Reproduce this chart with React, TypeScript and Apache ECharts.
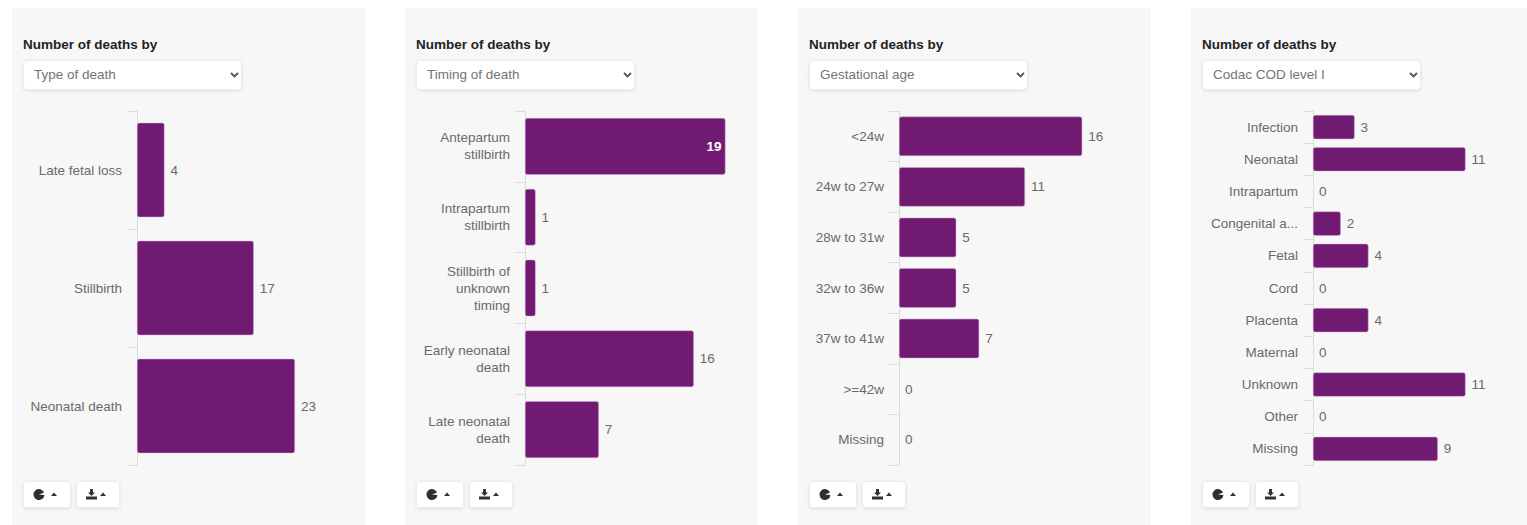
import React, { useEffect, useRef } from "react";
import * as echarts from "echarts";

const typeCategories = ["Late fetal loss", "Stillbirth", "Neonatal death"];
const typeValues = [4, 17, 23];

const timingCategories = [
  "Antepartum\nstillbirth",
  "Intrapartum\nstillbirth",
  "Stillbirth of\nunknown\ntiming",
  "Early neonatal\ndeath",
  "Late neonatal\ndeath",
];
const timingValues = [19, 1, 1, 16, 7];

const gestationCategories = ["<24w", "24w to 27w", "28w to 31w", "32w to 36w", "37w to 41w", ">=42w", "Missing"];
const gestationValues = [16, 11, 5, 5, 7, 0, 0];

const codacCategories = [
  "Infection", "Neonatal", "Intrapartum", "Congenital a...", "Fetal", "Cord",
  "Placenta", "Maternal", "Unknown", "Other", "Missing",
];
const codacValues = [3, 11, 0, 2, 4, 0, 4, 0, 11, 0, 9];

const selectLabels = ["Type of death", "Timing of death", "Gestational age", "Codac COD level I"];
const heading = "Number of deaths by";

const PURPLE = "#701a72";
const FONT = '"Liberation Sans", Arial, sans-serif';
const TEXT_SIZE = 13.5;

const panels = [
  { left: 12, axisX: 137, plotWidth: 206, max: 30, gap: "20%", categories: typeCategories, values: typeValues },
  { left: 405, axisX: 525, plotWidth: 211, max: 20, gap: "20%", categories: timingCategories, values: timingValues },
  { left: 798, axisX: 899, plotWidth: 229, max: 20, gap: "22%", categories: gestationCategories, values: gestationValues },
  { left: 1191, axisX: 1313, plotWidth: 208, max: 15, gap: "25%", categories: codacCategories, values: codacValues },
];

const softEdge = { shadowColor: "rgba(0,0,0,0.10)", shadowBlur: 3, shadowOffsetY: 1 };

// Panel chrome: background, heading, drop-down and the two icon buttons.
function panelChrome(left: number, label: string) {
  const x = left + 11;
  const button = (bx: number, w: number) => ({
    type: "rect",
    shape: { x: bx + 0.5, y: 481.5, width: w, height: 26, r: 3 },
    style: { fill: "#ffffff", stroke: "#ececec", lineWidth: 1, ...softEdge },
  });
  const caret = (cx: number) => ({
    type: "polygon",
    shape: { points: [[cx, 496], [cx + 6, 496], [cx + 3, 492.5]] },
    style: { fill: "#333333" },
  });
  return [
    {
      type: "rect",
      shape: { x: left, y: 8, width: 353, height: 517 },
      style: { fill: "#f7f7f7" },
      z: -10,
    },
    {
      type: "text",
      x,
      y: 37,
      style: { text: heading, font: `bold ${TEXT_SIZE}px ${FONT}`, fill: "#222222" },
    },
    {
      type: "rect",
      shape: { x: x + 0.5, y: 60.5, width: 218, height: 29, r: 4 },
      style: { fill: "#ffffff", stroke: "#ececec", lineWidth: 1, ...softEdge },
    },
    {
      type: "text",
      x: x + 11,
      y: 67,
      style: { text: label, font: `${TEXT_SIZE}px ${FONT}`, fill: "#747474" },
    },
    {
      type: "polyline",
      shape: { points: [[x + 208, 73], [x + 211.5, 76.5], [x + 215, 73]] },
      style: { stroke: "#555555", lineWidth: 1.8, fill: "none" },
    },
    button(x, 47),
    button(x + 53, 43),
    {
      type: "sector",
      shape: { cx: x + 16, cy: 494.5, r: 5.5, r0: 0, startAngle: 0.1, endAngle: 5.9 },
      style: { fill: "#2f2f2f" },
    },
    caret(x + 28),
    {
      type: "polygon",
      shape: {
        points: [
          [x + 67, 489], [x + 70, 489], [x + 70, 492.5], [x + 72, 492.5], [x + 68.5, 496], [x + 65, 492.5], [x + 67, 492.5],
        ],
      },
      style: { fill: "#333333" },
    },
    {
      type: "rect",
      shape: { x: x + 63, y: 496.5, width: 11, height: 3 },
      style: { fill: "#333333" },
    },
    caret(x + 77),
  ];
}

export default function App() {
  const ref = useRef<HTMLDivElement>(null);

  useEffect(() => {
    document.body.style.margin = "0";
    document.body.style.background = "#ffffff";
    const chart = echarts.init(ref.current!, null, { renderer: "svg" });

    chart.setOption({
      animation: false,
      backgroundColor: "#ffffff",
      textStyle: { fontFamily: FONT },
      graphic: panels.flatMap((p, i) => panelChrome(p.left, selectLabels[i])).map((el) => ({ ...el, silent: true })),
      grid: panels.map((p) => ({ left: p.axisX, top: 111, width: p.plotWidth, height: 354 })),
      xAxis: panels.map((p, i) => ({
        type: "value",
        gridIndex: i,
        min: 0,
        max: p.max,
        show: false,
      })),
      yAxis: panels.map((p, i) => ({
        type: "category",
        gridIndex: i,
        inverse: true,
        data: p.categories,
        axisLine: { show: true, lineStyle: { color: "#dcdcdc", width: 1 } },
        axisTick: { show: true, length: 10, interval: 0, lineStyle: { color: "#dcdcdc", width: 1 } },
        splitLine: { show: false },
        axisLabel: {
          interval: 0,
          margin: 15,
          color: "#6a6a6a",
          fontSize: TEXT_SIZE,
          lineHeight: 17,
          fontFamily: FONT,
          padding: [2, 0, 0, 0],
        },
      })),
      series: panels.map((p, i) => ({
        type: "bar",
        xAxisIndex: i,
        yAxisIndex: i,
        barCategoryGap: p.gap,
        itemStyle: { color: PURPLE, borderRadius: 2 },
        data: p.values.map((v) => {
          // The longest bar of the timing panel runs to the plot edge, so its value sits inside.
          const inside = i === 1 && v === 19;
          return {
            value: v,
            itemStyle: v > 0 ? { borderColor: "#d3a6d4", borderWidth: 0.5 } : { borderWidth: 0 },
            label: inside
              ? { position: "insideRight", color: "#ffffff", distance: 4, fontWeight: "bold" }
              : { position: "right", color: "#6a6a6a", distance: 6 },
          };
        }),
        label: { show: true, fontSize: TEXT_SIZE, fontFamily: FONT, offset: [0, 0] },
      })),
    });

    return () => chart.dispose();
  }, []);

  return <div ref={ref} style={{ position: "absolute", left: 0, top: 0, width: 1527, height: 525 }} />;
}
